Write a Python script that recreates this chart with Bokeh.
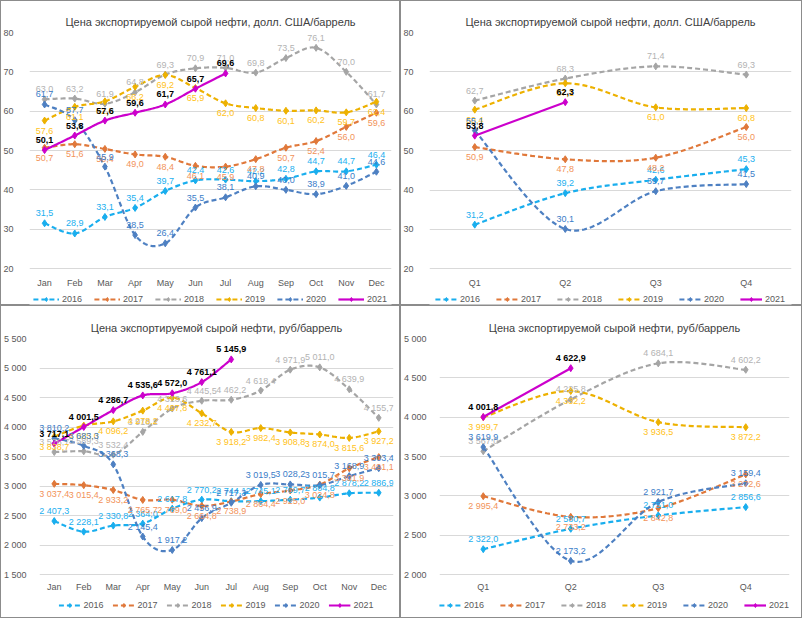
import numpy as np
from bokeh.plotting import figure
from bokeh.models import Range1d, FixedTicker, Legend, LegendItem
from bokeh.layouts import row, column
from bokeh.embed import file_html
from bokeh.resources import INLINE
from bokeh.core.properties import value

FONT = "Liberation Sans"

months = ["Jan", "Feb", "Mar", "Apr", "May", "Jun", "Jul", "Aug", "Sep", "Oct", "Nov", "Dec"]
quarters = ["Q1", "Q2", "Q3", "Q4"]
years = ["2016", "2017", "2018", "2019", "2020", "2021"]

# USD / barrel, monthly
usd_m_2016 = [31.5, 28.9, 33.1, 35.4, 39.7, 42.4, 42.6, 42.2, 42.8, 44.7, 44.7, 46.4]
usd_m_2017 = [50.7, 51.6, 50.4, 49.0, 48.4, 46.1, 45.9, 47.8, 50.7, 52.4, 56.0, 59.6]
usd_m_2018 = [63.0, 63.2, 61.9, 64.8, 69.3, 70.9, 71.0, 69.8, 73.5, 76.1, 70.0, 61.7]
usd_m_2019 = [57.6, 61.1, 62.5, 66.2, 69.2, 65.9, 62.0, 60.8, 60.1, 60.2, 59.7, 62.4]
usd_m_2020 = [61.7, 57.7, 45.9, 28.5, 26.4, 35.5, 38.1, 40.9, 40.0, 38.9, 41.0, 44.6]
usd_m_2021 = [50.1, 53.8, 57.6, 59.6, 61.7, 65.7, 69.6]

# USD / barrel, quarterly
usd_q_2016 = [31.2, 39.2, 42.6, 45.3]
usd_q_2017 = [50.9, 47.8, 48.2, 56.0]
usd_q_2018 = [62.7, 68.3, 71.4, 69.3]
usd_q_2019 = [60.4, 67.1, 61.0, 60.8]
usd_q_2020 = [55.1, 30.1, 39.7, 41.5]
usd_q_2021 = [53.8, 62.3]

# RUB / barrel, monthly
rub_m_2016 = [2407.3, 2228.1, 2330.8, 2364.0, 2617.8, 2770.2, 2744.1, 2745.1, 2769.7, 2804.8, 2878.2, 2886.9]
rub_m_2017 = [3037.4, 3015.4, 2933.2, 2765.7, 2769.0, 2664.8, 2738.9, 2864.4, 2925.0, 3024.8, 3301.9, 3491.1]
rub_m_2018 = [3576.7, 3589.3, 3532.4, 3918.2, 4313.6, 4445.5, 4462.2, 4618.4, 4971.9, 5011.0, 4639.9, 4155.7]
rub_m_2019 = [3838.7, 4025.0, 4096.2, 4278.2, 4497.8, 4232.7, 3918.2, 3982.4, 3908.8, 3874.0, 3815.6, 3927.2]
rub_m_2020 = [3810.2, 3683.3, 3368.3, 2145.4, 1917.2, 2456.9, 2717.3, 3019.5, 3028.2, 3015.7, 3168.9, 3303.4]
rub_m_2021 = [3717.1, 4001.5, 4286.7, 4535.6, 4572.0, 4761.1, 5145.9]

# RUB / barrel, quarterly
rub_q_2016 = [2322.0, 2580.7, 2751.0, 2856.6]
rub_q_2017 = [2995.4, 2733.2, 2842.8, 3272.6]
rub_q_2018 = [3567.0, 4225.8, 4684.1, 4602.2]
rub_q_2019 = [3999.7, 4332.2, 3936.5, 3872.2]
rub_q_2020 = [3619.9, 2173.2, 2921.7, 3159.4]
rub_q_2021 = [4001.8, 4622.9]

usd_ticks = [20, 30, 40, 50, 60, 70, 80]
rub_m_ticks = [1500, 2000, 2500, 3000, 3500, 4000, 4500, 5000, 5500]
rub_q_ticks = [2000, 2500, 3000, 3500, 4000, 4500, 5000]

title_usd = "Цена экспортируемой сырой нефти, долл. США/баррель"
title_rub = "Цена экспортируемой сырой нефти, руб/баррель"

line_colors = ["#19AEEE", "#E0783A", "#A5A5A5", "#EDB100", "#4E80C2", "#CC00CC"]
label_colors = ["#1BAFEF", "#F2935A", "#B3B3B3", "#FFC21A", "#3A7DC8", "#000000"]
dashes = ["5 3", "5 3", "5 3", "5 3", "5 3", "solid"]
label_side = [-1, 1, -1, 1, -1, -1]  # -1 above, +1 below


def fmt(v, thousands):
    s = f"{v:,.1f}" if thousands else f"{v:.1f}"
    return s.replace(",", " ").replace(".", ",")


def tick_fmt(v, thousands):
    return f"{v:,}".replace(",", " ") if thousands else str(v)


def smooth(ys, n=24):
    ys = np.asarray(ys, float)
    m = len(ys)
    xs = np.arange(m, dtype=float)
    if m < 3:
        return list(xs), list(ys)
    ox, oy = [], []
    for i in range(m - 1):
        a = max(i - 1, 0)
        d = min(i + 2, m - 1)
        c1x = xs[i] + (xs[i + 1] - xs[a]) / 6
        c1y = ys[i] + (ys[i + 1] - ys[a]) / 6
        c2x = xs[i + 1] - (xs[d] - xs[i]) / 6
        c2y = ys[i + 1] - (ys[d] - ys[i]) / 6
        t = np.linspace(0, 1, n, endpoint=(i == m - 2))
        b0 = (1 - t) ** 3
        b1 = 3 * (1 - t) ** 2 * t
        b2 = 3 * (1 - t) * t ** 2
        b3 = t ** 3
        ox.extend((b0 * xs[i] + b1 * c1x + b2 * c2x + b3 * xs[i + 1]).tolist())
        oy.extend((b0 * ys[i] + b1 * c1y + b2 * c2y + b3 * ys[i + 1]).tolist())
    return ox, oy


def panel(title, cats, data, yticks, thousands, w, h, bl, br, bt, bb,
          data_px, extra_px, cat_off, ystand, glyph_w, spacing):
    # data_px: frame height used by the y ticks; extra_px: frame space below lowest tick
    n = len(cats)
    ymin, ymax = yticks[0], yticks[-1]
    ystart = ymin - extra_px * (ymax - ymin) / data_px
    p = figure(width=w, height=h, output_backend="svg", toolbar_location=None,
               x_range=Range1d(-0.5, n - 0.5), y_range=Range1d(ystart, ymax),
               min_border_left=bl, min_border_right=br, min_border_top=bt, min_border_bottom=bb,
               title=title, background_fill_color="white", border_fill_color=None,
               styles={"box-shadow": "inset 0 0 0 1px #8c8c8c", "background-color": "white"})
    p.outline_line_color = None
    p.title.align = "center"
    p.title.text_font = FONT
    p.title.text_font_size = "11px"
    p.title.text_font_style = "normal"
    p.title.text_color = "#404040"

    p.xaxis.visible = False
    p.xgrid.visible = False
    p.ygrid.grid_line_color = "#D9D9D9"
    p.ygrid.grid_line_width = 1
    p.yaxis.ticker = FixedTicker(ticks=yticks)
    p.ygrid.ticker = FixedTicker(ticks=yticks)
    p.yaxis.major_label_overrides = {t: tick_fmt(t, thousands) for t in yticks}
    p.yaxis.major_tick_line_color = None
    p.yaxis.minor_tick_line_color = None
    p.yaxis.major_label_text_font = FONT
    p.yaxis.major_label_text_font_size = "9px"
    p.yaxis.major_label_text_color = "#595959"
    p.yaxis.axis_line_color = None
    p.yaxis.major_label_standoff = ystand

    # category labels under the lowest gridline
    p.text(list(range(n)), [ymin] * n, text=cats, y_offset=cat_off,
           text_align="center", text_baseline="middle", text_font=value(FONT),
           text_font_size="9px", text_color="#595959")

    items = []
    for k, ys in enumerate(data):
        sx, sy = smooth(ys)
        lr = p.line(sx, sy, line_color=line_colors[k], line_width=2.2, line_dash=dashes[k])
        sr = p.scatter(list(range(len(ys))), ys, marker="diamond", size=7,
                       fill_color=line_colors[k], line_color=line_colors[k])
        items.append(LegendItem(label=years[k], renderers=[lr, sr]))
    for k, ys in enumerate(data):
        p.text(list(range(len(ys))), ys, text=[fmt(v, thousands) for v in ys],
               y_offset=10 * label_side[k], text_align="center", text_baseline="middle",
               text_font=value(FONT), text_font_size="9px", text_color=label_colors[k],
               text_font_style="bold" if k == 5 else "normal")

    leg = Legend(items=items, orientation="horizontal", location="bottom_center")
    leg.border_line_color = None
    leg.background_fill_alpha = 0
    leg.label_text_font = FONT
    leg.label_text_font_size = "9px"
    leg.label_text_color = "#595959"
    leg.glyph_width = glyph_w
    leg.glyph_height = 10
    leg.label_height = 10
    leg.label_standoff = 3
    leg.spacing = spacing
    leg.padding = 2
    leg.margin = 0
    p.add_layout(leg)
    return p


# page geometry (page starts at 0,0): top row y 0..305, bottom row 305..618
f1 = panel(title_usd, months,
           [usd_m_2016, usd_m_2017, usd_m_2018, usd_m_2019, usd_m_2020, usd_m_2021],
           usd_ticks, False, 400, 305, 27, 9, 32, 1, 236, 36, 14, 10, 26, 12)
f2 = panel(title_usd, quarters,
           [usd_q_2016, usd_q_2017, usd_q_2018, usd_q_2019, usd_q_2020, usd_q_2021],
           usd_ticks, False, 402, 305, 24, 11, 30, 1, 238, 36, 14, 10, 22, 16)
f3 = panel(title_rub, months,
           [rub_m_2016, rub_m_2017, rub_m_2018, rub_m_2019, rub_m_2020, rub_m_2021],
           rub_m_ticks, True, 400, 313, 37, 7, 32, 8, 237, 36, 12, 7, 22, 9)
f4 = panel(title_rub, quarters,
           [rub_q_2016, rub_q_2017, rub_q_2018, rub_q_2019, rub_q_2020, rub_q_2021],
           rub_q_ticks, True, 402, 313, 36, 13, 33, 8, 236, 36, 12, 7, 22, 16)

layout = column(row(f1, f2), row(f3, f4))
open("out.html", "w").write(file_html(layout, INLINE))
